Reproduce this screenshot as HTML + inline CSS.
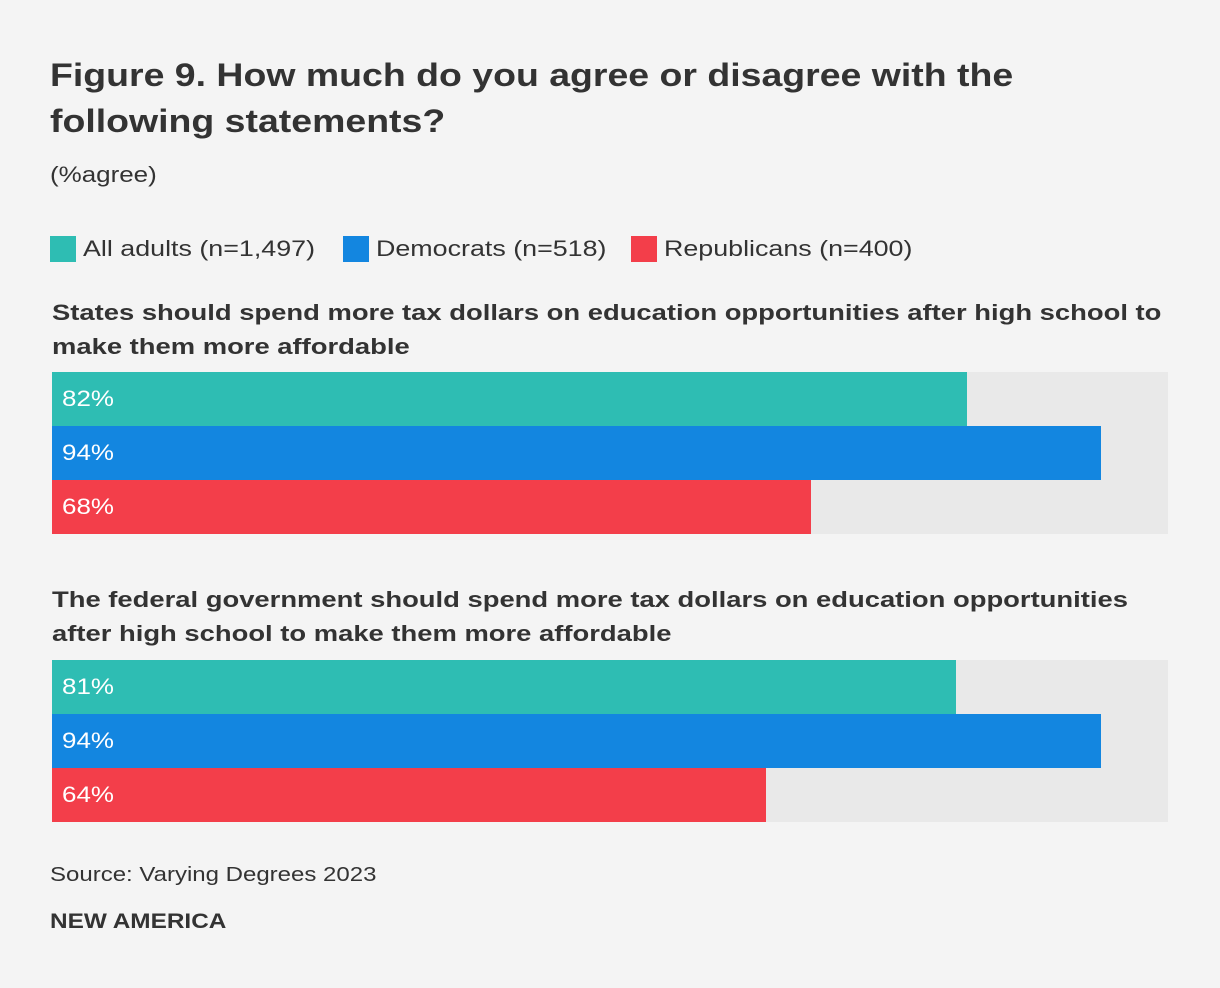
<!DOCTYPE html>
<html><head><meta charset="utf-8"><style>
body{margin:0;background:#f4f4f4;font-family:"Liberation Sans",sans-serif;color:#333;}
#wrap{position:relative;width:1220px;height:988px;overflow:hidden;}
.t{position:absolute;white-space:nowrap;transform-origin:0 0;}
.title{left:50px;top:52px;font-size:32px;font-weight:bold;line-height:46px;color:#333;transform:scaleX(1.17);}
.sub{left:50px;top:162px;font-size:22px;transform:scaleX(1.18);}
.leg{top:236px;font-size:22px;display:flex;align-items:center;}
.leg span.lt{display:inline-block;transform:scaleX(1.22);transform-origin:0 50%;}
.sw{width:26px;height:26px;display:inline-block;margin-right:7px;}
.q{left:52px;font-size:22px;font-weight:bold;line-height:34px;transform:scaleX(1.245);}
.track{position:absolute;left:52px;width:1116px;height:162px;background:#e9e9e9;}
.bar{position:absolute;left:0;height:54px;}
.bl{position:absolute;left:10px;top:0;line-height:54px;color:#fff;font-size:22px;transform:scaleX(1.18);transform-origin:0 0;}
</style></head><body><div id="wrap">
<div class="t title">Figure 9. How much do you agree or disagree with the<br>following statements?</div>
<div class="t sub">(%agree)</div>
<div class="t leg" style="left:50px"><span class="sw" style="background:#2ebdb3"></span><span class="lt">All adults (n=1,497)</span></div>
<div class="t leg" style="left:343px"><span class="sw" style="background:#1386e0"></span><span class="lt">Democrats (n=518)</span></div>
<div class="t leg" style="left:631px"><span class="sw" style="background:#f33e4a"></span><span class="lt">Republicans (n=400)</span></div>
<div class="t q" style="top:296px">States should spend more tax dollars on education opportunities after high school to<br>make them more affordable</div>
<div class="t q" style="top:583px">The federal government should spend more tax dollars on education opportunities<br>after high school to make them more affordable</div>
<div class="track" id="g0" style="top:372px"></div>
<div class="track" id="g1" style="top:660px"></div>
<div class="t" style="left:50px;top:864px;font-size:20px;transform:scaleX(1.2)">Source: Varying Degrees 2023</div>
<div class="t" style="left:50px;top:910px;font-size:21px;font-weight:bold;transform:scaleX(1.16)">NEW AMERICA</div>
</div>
<script>
const series = ["All adults","Democrats","Republicans"];
const q1Values = [82,94,68];
const q2Values = [81,94,64];
const colors = ["#2ebdb3","#1386e0","#f33e4a"];
const W = 1116;
function x(v){return v/100*W;}
[q1Values,q2Values].forEach(function(vals,gi){
  const g=document.getElementById('g'+gi);
  vals.forEach(function(v,i){
    const b=document.createElement('div');
    b.className='bar';
    b.style.top=(i*54)+'px';
    b.style.width=x(v)+'px';
    b.style.background=colors[i];
    
    
    const l=document.createElement('span');
    l.className='bl';
    l.textContent=v+'%';
    
    
    b.appendChild(l);
    g.appendChild(b);
  });
});
</script></body></html>
